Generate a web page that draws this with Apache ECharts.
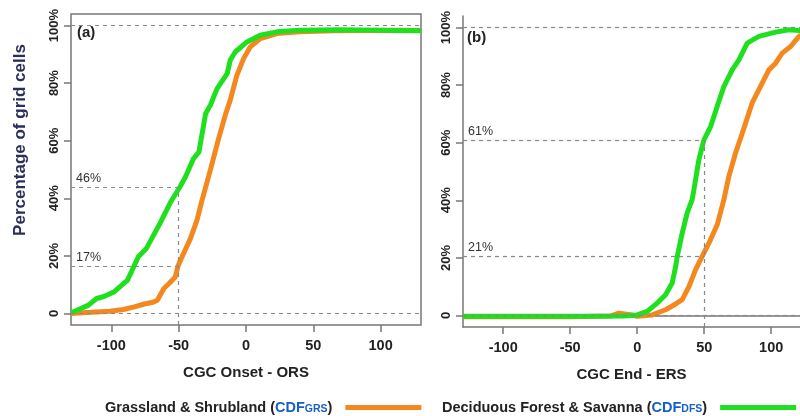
<!DOCTYPE html>
<html>
<head>
<meta charset="utf-8">
<script src="https://cdn.jsdelivr.net/npm/echarts@6/dist/echarts.min.js"></script>
<style>
  html, body { margin: 0; padding: 0; background: #fff; }
  #chart { width: 800px; height: 416px; }
</style>
</head>
<body>
<div id="chart"></div>
<script>
// panel (a): CGC Onset - ORS
var onsetGrsX = [-130, -115, -101, -91, -83, -75.5, -70, -66, -61, -57, -52.5, -50.5, -47.5, -41.3, -36.4, -32.7, -26.5, -20.3, -15.4, -11.7, -6.8, -1.8, 3.2, 10.6, 23, 40, 65, 90, 115, 130];
var onsetGrsY = [0, 0.4, 0.8, 1.4, 2.3, 3.3, 3.8, 4.5, 8.7, 10.5, 12.7, 16.5, 19.7, 26, 32.4, 39.3, 49.8, 60.8, 68.9, 74.1, 82.7, 88.5, 92.6, 95.5, 97.2, 97.8, 98.2, 98.3, 98.4, 98.3];
var onsetDfsX = [-130, -128, -117, -111, -106, -98, -88, -80, -74, -64, -56, -49, -45, -39, -35, -30, -26.5, -21.5, -14, -11.7, -8, 0.7, 10.6, 23, 40, 70, 100, 130];
var onsetDfsY = [0.5, 0.6, 2.9, 5.2, 5.8, 7.5, 11.6, 19.7, 22.6, 31.2, 38.7, 44, 47.4, 53.8, 56, 69.4, 72.3, 78.1, 83.3, 88, 90.8, 94.3, 96.6, 97.8, 98.4, 98.5, 98.4, 98.2];

// panel (b): CGC End - ERS
var endGrsX = [-130, -100, -50, -20, -13.7, -5, 0, 11.2, 21.2, 28.7, 33.6, 38.6, 43.6, 48.5, 53.5, 59.7, 64.7, 68.4, 73.4, 78.4, 85.8, 90.8, 98.3, 103.3, 108.2, 114.5, 120.7, 125, 130];
var endGrsY = [-0.4, -0.4, -0.4, -0.2, 0.8, 0.3, -0.3, 0.2, 2, 4, 5.5, 10, 15.9, 20.5, 25.1, 31.5, 40.2, 48.3, 56.4, 63.3, 73.8, 78.4, 85.3, 87.6, 91.1, 93.4, 96.9, 98, 98.8];
var endDfsX = [-130, -100, -50, -10, 0, 7.5, 14.9, 21.2, 26.1, 28.7, 29.9, 33.6, 37.3, 41, 42.3, 46, 49.8, 54.8, 59.7, 64.7, 70.9, 75.9, 82.1, 90.8, 103.3, 113.2, 120.7, 130];
var endDfsY = [-0.3, -0.3, -0.3, -0.2, 0.2, 1.4, 4.3, 7.2, 11.3, 17, 20.5, 28.6, 35.6, 40.2, 43.6, 54, 61, 65.6, 72.6, 79.5, 85.3, 88.8, 94.6, 96.9, 98.4, 99.2, 99, 99];

var xTicks = [-100, -50, 0, 50, 100];
var yTicks = [0, 20, 40, 60, 80, 100];
// reference lines: x cut, upper level, lower level and their printed labels
var refA = { x: -50, hi: 44, lo: 16.5, hiText: '46%', loText: '17%' };
var refB = { x: 50, hi: 61, lo: 20.5, hiText: '61%', loText: '21%' };

var ORANGE = '#f5871f';
var GREEN = '#1ee01e';
var AXIS = '#777';
var FONT = '"Liberation Sans", Arial, sans-serif';

function pairs(xs, ys) {
  return xs.map(function (x, i) { return [x, ys[i]]; });
}

function xAxisFor(idx, name, max) {
  return {
    gridIndex: idx, type: 'value', min: -130, max: max,
    name: name, nameLocation: 'middle', nameGap: 40,
    nameTextStyle: { fontFamily: FONT, fontWeight: 'bold', fontSize: 15, color: '#222' },
    axisLine: { show: idx === 1, onZero: false, lineStyle: { color: AXIS, width: 1.5 } },
    axisTick: { show: true, length: 7, customValues: xTicks, lineStyle: { color: AXIS, width: 1.5 } },
    axisLabel: { customValues: xTicks, margin: 13, fontFamily: FONT, fontWeight: 'bold', fontSize: 14.5, color: '#222' },
    splitLine: { show: false }
  };
}

function yAxisFor(idx) {
  return {
    gridIndex: idx, type: 'value', min: -4, max: 104,
    axisLine: { show: idx === 1, onZero: false, lineStyle: { color: AXIS, width: 1.5 } },
    axisTick: { show: true, length: 7, customValues: yTicks, lineStyle: { color: AXIS, width: 1.5 } },
    axisLabel: {
      customValues: yTicks, rotate: 90, margin: 10,
      fontFamily: FONT, fontWeight: 'bold', fontSize: 13, color: '#222',
      formatter: function (v) { return v === 0 ? '0' : v + '%'; }
    },
    splitLine: { show: false }
  };
}

function refLines(r) {
  var lab = function (t) {
    return { show: true, formatter: t, position: 'insideStartTop', distance: [5, 2],
      fontFamily: FONT, fontSize: 12.5, color: '#333' };
  };
  return {
    silent: true, symbol: 'none', animation: false,
    lineStyle: { type: [4, 4], color: '#888', width: 1.2 },
    label: { show: false },
    data: [
      { yAxis: 0 },
      { yAxis: 100 },
      [{ coord: [-130, r.hi], label: lab(r.hiText) }, { coord: [r.x, r.hi] }],
      [{ coord: [-130, r.lo], label: lab(r.loText) }, { coord: [r.x, r.lo] }],
      [{ coord: [r.x, -4] }, { coord: [r.x, r.hi] }]
    ]
  };
}

function curve(name, idx, xs, ys, color, extra) {
  var s = {
    name: name, type: 'line', xAxisIndex: idx, yAxisIndex: idx,
    data: pairs(xs, ys), showSymbol: false, symbol: 'none',
    lineStyle: { color: color, width: 5 }, itemStyle: { color: color },
    z: name === 'DFS' ? 3 : 2
  };
  if (extra) s.markLine = extra;
  return s;
}

function legendFor(name, left, label, code) {
  return {
    left: left, top: 400, padding: 0, data: [name], align: 'right',
    icon: 'rect', itemWidth: 76, itemHeight: 5, selectedMode: false,
    formatter: function () { return '{t|' + label + ' (}{c|CDF}{s|' + code + '}{t|)}{g|}'; },
    textStyle: {
      rich: {
        t: { fontFamily: FONT, fontWeight: 'bold', fontSize: 14.5, color: '#222' },
        c: { fontFamily: FONT, fontWeight: 'bold', fontSize: 14.5, color: '#1660c4' },
        s: { fontFamily: FONT, fontWeight: 'bold', fontSize: 10.5, color: '#1660c4', verticalAlign: 'bottom', padding: [4, 0, 0, 0] },
        g: { width: 8 }
      }
    }
  };
}

var chart = echarts.init(document.getElementById('chart'));

// top frame line of panel (b); its right side runs off the picture
var topB = {
  gridIndex: 1, type: 'value', position: 'top', min: -130, max: 121.5,
  axisLine: { show: true, lineStyle: { color: AXIS, width: 1.5 } },
  axisTick: { show: false }, axisLabel: { show: false }, splitLine: { show: false }
};

var option = {
  animation: false,
  grid: [
    { left: 71, top: 14, width: 350, height: 311, show: true, borderColor: AXIS, borderWidth: 1.5, backgroundColor: 'transparent' },
    { left: 463, top: 16, width: 337, height: 311 }
  ],
  xAxis: [xAxisFor(0, 'CGC Onset - ORS', 130), xAxisFor(1, 'CGC End - ERS', 121.5), topB],
  yAxis: [yAxisFor(0), yAxisFor(1)],
  legend: [
    legendFor('GRS', 105, 'Grassland & Shrubland', 'GRS'),
    legendFor('DFS', 442, 'Deciduous Forest & Savanna', 'DFS')
  ],
  graphic: [
    { type: 'text', x: 20, y: 140, rotation: Math.PI / 2,
      style: { text: 'Percentage of grid cells', fill: '#2a2f5a', align: 'center', verticalAlign: 'middle',
        font: 'bold 17px ' + FONT } },
    { type: 'text', x: 77, y: 33,
      style: { text: '(a)', fill: '#222', verticalAlign: 'middle', font: 'bold 15px ' + FONT } },
    { type: 'text', x: 467, y: 38,
      style: { text: '(b)', fill: '#222', verticalAlign: 'middle', font: 'bold 15px ' + FONT } }
  ],
  series: [
    curve('GRS', 0, onsetGrsX, onsetGrsY, ORANGE),
    curve('DFS', 0, onsetDfsX, onsetDfsY, GREEN, refLines(refA)),
    curve('GRS', 1, endGrsX, endGrsY, ORANGE),
    curve('DFS', 1, endDfsX, endDfsY, GREEN, refLines(refB))
  ]
};

chart.setOption(option);

window.onresize = function () {
  chart.resize();
};
</script>
</body>
</html>
